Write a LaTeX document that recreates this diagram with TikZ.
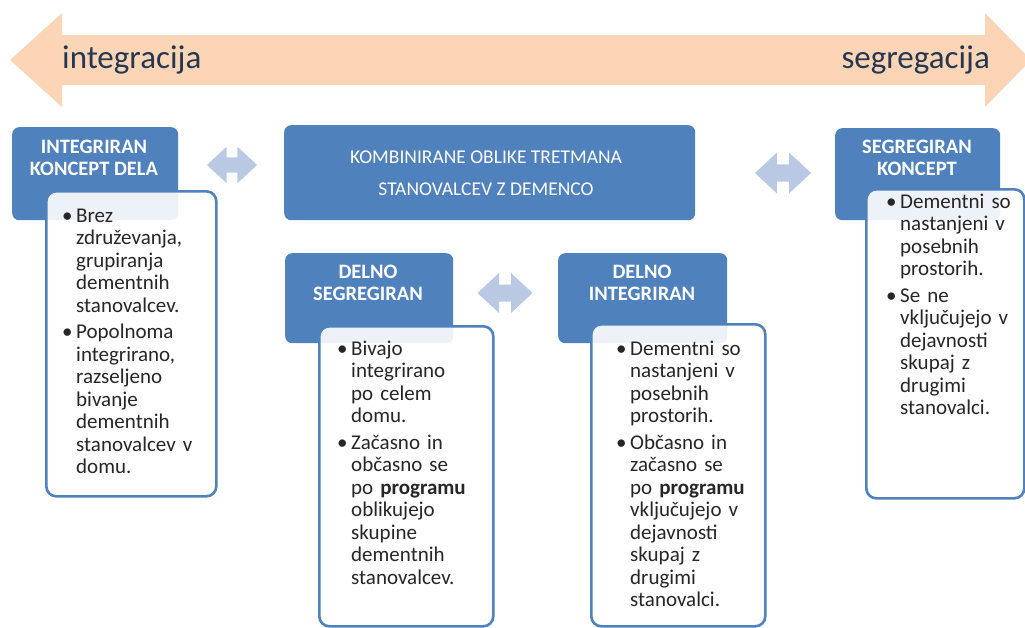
\documentclass[tikz,border=0pt]{standalone}
\usepackage{fontspec}
\setmainfont{Carlito}
\definecolor{peach}{HTML}{FBD5B5}
\definecolor{hdblue}{HTML}{4F81BD}
\definecolor{arrblue}{HTML}{B9C9E3}
\definecolor{navytext}{HTML}{263752}
\definecolor{txtgrey}{HTML}{262626}
\newcommand{\bul}[1]{\noindent\hangindent=14pt\hangafter=1\makebox[14pt][l]{\textbullet}#1\par}
\tikzset{
  headbox/.style={fill=hdblue, rounded corners=7pt, anchor=north west, inner sep=0pt},
  itembox/.style={draw=hdblue, line width=2.6pt, fill=white, fill opacity=0.9, rounded corners=10pt, anchor=north west, inner sep=0pt},
  headtext/.style={text=white, font=\fontsize{20.5}{22.5}\selectfont\bfseries, align=center, inner sep=0pt},
  itemtext/.style={text=txtgrey, font=\fontsize{21}{22.5}\selectfont, text width=165pt, align=left, anchor=base west, inner sep=0pt},
  sidetext/.style={text=navytext, font=\fontsize{33}{38}\selectfont, inner sep=0pt},
}
\begin{document}
\begin{tikzpicture}[x=1pt,y=-1pt, line join=round]
	\useasboundingbox (0,0) rectangle (1025,627);
	\clip (0,0) rectangle (1025,627);
	% big arrow
	\fill[peach] (10,60)--(62,13)--(62,35)--(985,35)--(985,13)--(1031,60)--(985,107)--(985,85)--(62,85)--(62,107)--cycle;
	\node[sidetext, anchor=base west] (integ) at (62,68) {integracija};
	\node[sidetext, anchor=base east] (segreg) at (990,68) {segregacija};
	% small double arrows
	\foreach \cx/\cy/\s in {232/165/0.91, 505/293/1, 783/173/1.02}
	\fill[arrblue, shift={(\cx,\cy)}, scale=\s] (-27.5,0)--(-6,-20)--(-6,-8.5)--(6,-8.5)--(6,-20)--(27.5,0)--(6,20)--(6,8.5)--(-6,8.5)--(-6,20)--cycle;
	% blue boxes
	\node[headbox, minimum width=166pt, minimum height=93pt] (intbox) at (12,127) {};
	\node[headbox, minimum width=411pt, minimum height=95pt] (kombbox) at (284,125) {};
	\node[headbox, minimum width=165pt, minimum height=92pt] (segbox) at (835,128) {};
	\node[headbox, minimum width=168pt, minimum height=90pt] (dsegbox) at (285,253) {};
	\node[headbox, minimum width=169pt, minimum height=90pt] (dintbox) at (558,253) {};
	\node[headtext] (inthead) at (94,158) {INTEGRIRAN\\KONCEPT DELA};
	\node[headtext] (seghead) at (917,158) {SEGREGIRAN\\KONCEPT};
	\node[headtext] (dseghead) at (368,283) {DELNO\\SEGREGIRAN};
	\node[headtext] (dinthead) at (642,283) {DELNO\\INTEGRIRAN};
	\node[text=white, font=\fontsize{19.5}{32}\selectfont, align=center, inner sep=0pt] (kombhead) at (486,173) {KOMBINIRANE OBLIKE TRETMANA\\STANOVALCEV Z DEMENCO};
	% white boxes
	\node[itembox, minimum width=170pt, minimum height=305pt] (intlist) at (45,190) {};
	\node[itembox, minimum width=174pt, minimum height=300pt] (dseglist) at (318,325) {};
	\node[itembox, minimum width=174pt, minimum height=302pt] (dintlist) at (590,323) {};
	\node[itembox, minimum width=158pt, minimum height=309pt] (seglist) at (865,188) {};
	\node[itemtext] (inttext) at (62,222) {\bul{Brez\newline združevanja,\newline grupiranja\newline dementnih\newline stanovalcev.}\vspace{4pt}\bul{Popolnoma\newline integrirano,\newline razseljeno\newline bivanje\newline dementnih\newline stanovalcev v\newline domu.}};
	\node[itemtext] (dsegtext) at (337,355) {\bul{Bivajo\newline integrirano\newline po celem\newline domu.}\vspace{4pt}\bul{Začasno in\newline občasno se\newline po \textbf{programu}\newline oblikujejo\newline skupine\newline dementnih\newline stanovalcev.}};
	\node[itemtext] (dinttext) at (616,355) {\bul{Dementni so\newline nastanjeni v\newline posebnih\newline prostorih.}\vspace{4pt}\bul{Občasno in\newline začasno se\newline po \textbf{programu}\newline vključujejo v\newline dejavnosti\newline skupaj z\newline drugimi\newline stanovalci.}};
	\node[itemtext] (segtext) at (886,208) {\bul{Dementni so\newline nastanjeni v\newline posebnih\newline prostorih.}\vspace{4pt}\bul{Se ne\newline vključujejo v\newline dejavnosti\newline skupaj z\newline drugimi\newline stanovalci.}};
\end{tikzpicture}
\end{document}
